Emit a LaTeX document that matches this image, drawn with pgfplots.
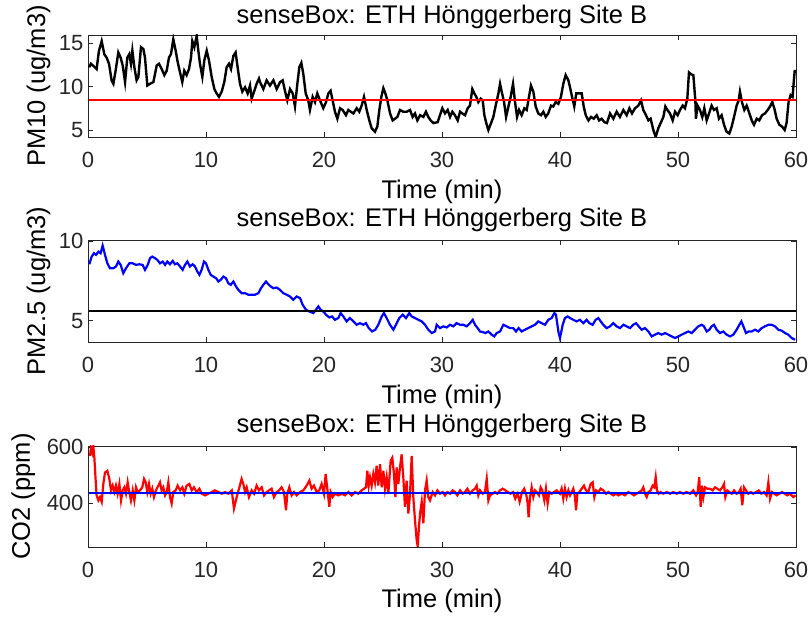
\documentclass[border=0pt]{standalone}
\usepackage{pgfplots}
\pgfplotsset{compat=1.18}
\usepackage{fontspec}
\setmainfont{Liberation Sans}
\definecolor{axgray}{RGB}{38,38,38}
\pgfplotsset{
  mlab/.style={
    scale only axis, width=708pt,
    xmin=0, xmax=60, xtick={0,10,20,30,40,50,60},
    axis line style={axgray, line width=0.6pt},
    tick style={axgray, line width=0.6pt},
    major tick length=5pt,
    tick align=inside,
    /pgf/number format/assume math mode=true,
    ticklabel style={font=\fontsize{22}{26}\selectfont, text=axgray},
    xticklabel style={anchor=base, yshift=-31pt},
    yticklabel style={anchor=east, xshift=-1pt},
    label style={font=\fontsize{25.5}{30}\selectfont},
    title style={font=\fontsize{25.5}{30}\selectfont},
    xlabel={Time (min)},
    clip=true,
  }
}
\begin{document}
\begin{tikzpicture}
\path[use as bounding box] (0,0) rectangle (812pt,618pt);
% ---------------- PM10
\begin{axis}[mlab, at={(88pt,481pt)}, anchor=south west, height=102pt,
  ymin=4.2, ymax=15.9, ytick={5,10,15},
  title={senseBox: ETH Hönggerberg Site B},
  title style={at={(axis description cs:0.5,1.05)}, anchor=base},
  xlabel style={at={(axis description cs:0.5,-0.6)}, anchor=base},
  ylabel={PM10 (ug/m3)},
  ylabel style={at={(axis description cs:-0.0699,0.5)}, anchor=center},
]
\addplot[black, line width=2.4pt] coordinates {
(0.1,12.2)(0.25,12.6)(0.5,12.3)(0.73,12.0)(0.93,14.1)(1.16,15.2)(1.38,13.7)(1.58,13.3)(1.78,12.6)(2.0,10.7)(2.15,10.3)(2.34,11.8)(2.57,13.9)(2.77,13.3)(2.94,12.4)(3.14,10.5)(3.33,13.3)(3.5,13.7)(3.64,12.6)(3.76,14.1)(3.93,12.2)(4.12,10.7)(4.27,11.1)(4.49,14.5)(4.69,14.3)(4.83,13.3)(5.03,10.1)(5.25,10.3)(5.54,10.5)(5.82,12.4)(6.02,12.6)(6.24,12.0)(6.47,11.3)(6.67,11.8)(6.86,13.3)(7.03,13.7)(7.23,15.4)(7.43,14.1)(7.6,12.8)(7.8,11.6)(7.99,10.5)(8.16,11.8)(8.36,11.3)(8.56,12.0)(8.73,13.3)(8.84,15.2)(9.01,14.5)(9.21,15.8)(9.35,14.1)(9.49,12.6)(9.69,11.1)(9.86,13.0)(10.06,14.1)(10.25,13.0)(10.48,11.1)(10.71,9.7)(10.9,9.2)(11.1,8.8)(11.33,9.4)(11.55,10.5)(11.75,12.2)(11.95,12.6)(12.12,12.0)(12.32,13.5)(12.51,13.9)(12.68,12.2)(12.88,10.3)(13.08,9.4)(13.31,9.9)(13.53,9.2)(13.73,10.1)(13.87,8.6)(14.1,9.5)(14.29,10.3)(14.49,10.9)
(14.58,10.5)(14.86,9.7)(15.14,10.7)(15.42,10.1)(15.71,10.7)(15.99,9.7)(16.28,10.5)(16.5,10.7)(16.69,9.5)(16.89,8.4)(17.12,9.7)(17.35,9.2)(17.54,7.7)(17.74,10.3)(17.91,12.2)(18.08,12.7)(18.25,11.4)(18.45,9.2)(18.67,8.4)(18.81,7.3)(19.04,8.8)(19.24,8.2)(19.43,9.2)(19.66,8.4)(19.94,7.5)(20.17,8.2)(20.37,9.2)(20.56,9.5)(20.73,8.4)(20.93,7.1)(21.13,6.3)(21.36,7.5)(21.58,7.3)(21.86,6.7)(22.06,7.3)(22.26,7.1)(22.49,6.9)(22.77,7.5)(22.99,7.1)(23.19,7.8)(23.39,8.8)(23.62,7.3)(23.84,6.1)(24.04,5.2)(24.32,4.8)(24.52,5.4)(24.69,7.3)(24.86,8.8)(25.03,9.8)(25.2,9.2)(25.37,8.4)(25.6,6.9)(25.82,6.1)(26.02,6.3)(26.22,6.5)(26.44,7.3)(26.72,7.1)(27.01,7.1)(27.29,7.3)(27.51,6.5)(27.71,6.9)(27.91,6.1)(28.14,6.7)(28.42,6.5)(28.64,7.1)(28.84,6.5)(29.04,6.1)(29.27,5.8)
(29.63,5.9)(29.83,6.7)(30.03,7.5)(30.25,6.9)(30.48,7.3)(30.68,6.5)(30.88,7.1)(31.1,6.7)(31.33,6.1)(31.53,7.1)(31.72,6.9)(31.95,6.7)(32.18,7.5)(32.37,7.8)(32.57,9.7)(32.74,9.2)(32.91,8.8)(33.08,8.2)(33.28,8.6)(33.45,8.4)(33.59,6.7)(33.79,5.6)(33.93,5.0)(34.16,5.8)(34.35,6.5)(34.55,7.8)(34.78,9.2)(34.92,10.3)(35.06,9.4)(35.26,8.2)(35.43,6.5)(35.63,7.7)(35.82,8.8)(36.02,10.3)(36.19,8.2)(36.36,6.5)(36.53,7.3)(36.75,6.7)(36.98,7.5)(37.18,7.3)(37.37,8.8)(37.54,10.1)(37.74,9.4)(37.94,7.7)(38.16,6.9)(38.39,6.7)(38.59,7.1)(38.79,6.5)(39.0,6.9)(39.24,7.8)(39.43,7.7)(39.63,8.2)(39.86,8.0)(40.08,8.8)(40.28,10.3)(40.48,11.3)(40.71,10.7)(40.85,9.9)(40.99,9.0)(41.21,7.7)(41.38,9.2)(41.61,9.2)(41.84,9.2)(42.01,7.7)(42.18,6.7)(42.41,6.1)(42.63,6.5)(42.86,6.3)(43.11,6.7)(43.31,6.1)(43.53,6.3)(43.76,5.9)(43.98,5.8)
(44.24,6.9)(44.52,6.3)(44.8,7.1)(45.08,6.5)(45.37,7.3)(45.65,6.7)(45.88,7.5)(46.1,6.9)(46.36,7.5)(46.64,7.8)(46.86,8.4)(47.06,7.3)(47.29,6.7)(47.49,6.1)(47.68,6.3)(47.91,5.0)(48.11,4.2)(48.33,5.2)(48.53,5.8)(48.76,6.5)(48.93,7.7)(49.1,7.3)(49.32,6.9)(49.55,6.1)(49.75,7.1)(49.97,6.7)(50.17,7.3)(50.4,7.8)(50.59,7.5)(50.79,8.6)(50.93,11.6)(51.1,11.4)(51.3,11.3)(51.47,8.4)(51.52,6.3)(51.66,7.8)(51.86,7.3)(52.06,6.5)(52.23,7.5)(52.43,6.1)(52.63,6.9)(52.85,7.8)(53.05,7.3)(53.28,7.5)(53.47,6.3)(53.7,6.7)(53.9,5.6)(54.12,4.8)(54.35,4.6)(54.55,5.4)(54.75,6.5)(54.97,7.8)(55.14,8.4)(55.25,9.4)(55.42,8.2)(55.62,7.3)(55.82,7.8)(56.05,6.9)(56.25,6.1)(56.44,5.6)(56.67,6.3)(56.89,6.1)(57.12,6.7)(57.37,6.9)(57.6,7.3)(57.8,7.7)(57.99,8.2)(58.16,7.5)(58.36,6.3)(58.59,5.6)(58.81,5.4)(59.04,5.0)(59.2,5.8)(59.37,8.2)(59.54,9.0)(59.71,8.8)(59.82,10.7)(59.9,11.9)
};
\addplot[red, line width=2pt] coordinates {(0.1,8.45)(60,8.45)};
\end{axis}
% ---------------- PM2.5
\begin{axis}[mlab, at={(88pt,276pt)}, anchor=south west, height=102pt,
  ymin=3.67, ymax=10.06, ytick={5,10},
  title={senseBox: ETH Hönggerberg Site B},
  title style={at={(axis description cs:0.5,1.07)}, anchor=base},
  xlabel style={at={(axis description cs:0.5,-0.6)}, anchor=base},
  ylabel={PM2.5 (ug/m3)},
  ylabel style={at={(axis description cs:-0.0699,0.5)}, anchor=center},
]
\addplot[blue, line width=2.2pt] coordinates {
(0.11,8.54)(0.31,9.02)(0.51,9.23)(0.68,9.13)(0.88,9.33)(1.07,9.23)(1.24,9.71)(1.44,9.13)(1.64,8.6)(1.86,8.29)(2.15,8.29)(2.37,8.4)(2.57,8.71)(2.77,8.5)(2.99,7.98)(3.22,8.29)(3.5,8.6)(3.79,8.6)(4.07,8.5)(4.35,8.54)(4.63,8.5)(4.83,8.19)(5.06,8.5)(5.25,8.92)(5.45,9.02)(5.68,8.92)(5.88,8.81)(6.1,8.6)(6.33,8.71)(6.53,8.5)(6.72,8.71)(6.95,8.54)(7.18,8.75)(7.37,8.54)(7.57,8.6)(7.8,8.4)(8.02,8.19)(8.22,8.5)(8.42,8.71)(8.64,8.4)(8.87,8.54)(9.07,8.4)(9.27,8.08)(9.44,7.88)(9.63,8.19)(9.83,8.71)(10.0,8.6)(10.2,8.19)(10.4,7.88)(10.62,7.77)(10.85,7.67)(11.05,7.46)(11.24,7.56)(11.47,7.77)(11.69,7.67)(11.89,7.35)(12.09,7.25)(12.32,7.46)(12.54,7.15)(12.74,6.94)(13.02,6.73)(13.31,6.73)(13.59,6.63)(13.87,6.63)(14.15,6.63)(14.44,6.73)(14.66,7.04)(14.86,7.25)(15.08,7.46)(15.28,7.29)(15.48,7.15)(15.71,7.04)(15.99,7.08)(16.27,6.94)(16.55,6.73)(16.84,6.63)(17.12,6.52)(17.4,6.31)(17.68,6.52)(17.97,6.42)(18.19,6.0)(18.47,5.69)(18.76,5.58)(19.1,5.48)(19.32,5.69)(19.52,5.9)(19.72,5.69)(19.94,5.58)(20.17,5.38)(20.45,5.21)(20.68,5.27)(20.93,5.06)(21.21,5.17)(21.41,5.48)(21.64,5.27)(21.92,4.96)(22.2,5.17)(22.49,4.96)(22.77,4.75)(23.05,4.85)(23.33,4.75)(23.56,4.85)(23.79,4.54)(24.07,4.33)(24.35,4.44)(24.6,4.75)(24.89,5.27)(25.08,5.48)(25.31,5.17)(25.59,4.75)(25.88,4.44)(26.1,4.75)(26.38,5.17)(26.67,5.38)(26.95,5.17)(27.23,5.48)(27.43,5.27)(27.71,5.17)(28.0,5.06)(28.28,4.96)(28.56,4.75)(28.84,4.44)(29.12,4.23)(29.41,4.33)
(29.55,4.75)(29.83,4.54)(30.11,4.65)(30.4,4.58)(30.68,4.75)(30.96,4.65)(31.24,4.85)(31.53,4.75)(31.81,4.75)(32.09,4.65)(32.37,4.85)(32.6,5.06)(32.8,4.75)(33.02,4.54)(33.22,4.33)(33.45,4.29)(33.67,4.23)(33.93,4.33)(34.21,4.13)(34.43,4.02)(34.63,4.23)(34.92,4.33)(35.2,4.75)(35.48,4.65)(35.76,4.54)(36.04,4.54)(36.27,4.33)(36.49,4.54)(36.75,4.33)(37.03,4.44)(37.31,4.54)(37.6,4.65)(37.88,4.75)(38.16,4.96)(38.44,4.85)(38.73,4.75)(39.01,5.06)(39.29,5.17)(39.52,5.48)(39.66,5.38)(39.86,4.33)(40.0,3.92)(40.23,4.75)(40.42,5.17)(40.65,5.27)(40.85,5.17)(41.13,5.06)(41.41,4.96)(41.69,5.06)(41.98,4.85)(42.26,5.06)(42.49,4.85)(42.77,4.75)(43.02,5.06)(43.25,5.17)(43.45,4.96)(43.67,4.75)(43.95,4.54)(44.24,4.65)(44.52,4.85)(44.8,4.65)(45.08,4.54)(45.37,4.75)(45.65,4.65)(45.93,4.54)(46.21,4.75)(46.44,4.85)(46.67,4.65)(46.92,4.44)(47.2,4.54)(47.49,4.33)(47.77,4.02)(48.05,4.13)(48.33,4.23)(48.62,4.13)(48.9,4.23)(49.18,4.13)(49.46,4.02)(49.75,3.92)(50.03,4.02)(50.31,4.13)(50.59,4.23)(50.88,4.33)(51.16,4.23)(51.44,4.44)(51.72,4.65)(52.01,4.75)(52.2,4.65)(52.43,4.33)(52.66,4.44)(52.85,4.65)(53.05,4.75)(53.28,4.44)(53.56,4.23)(53.84,4.33)(54.12,4.13)(54.41,4.02)(54.69,4.13)(54.97,4.44)(55.2,4.75)(55.37,4.96)(55.54,4.65)(55.76,4.23)(55.99,4.33)(56.24,4.33)(56.53,4.44)(56.81,4.33)(57.09,4.54)(57.37,4.65)(57.66,4.75)(57.94,4.75)(58.22,4.65)(58.5,4.44)(58.79,4.38)(59.07,4.23)(59.35,4.13)(59.63,3.92)(59.92,3.81)
};
\addplot[black, line width=2pt] coordinates {(0.1,5.6)(60,5.6)};
\end{axis}
% ---------------- CO2
\begin{axis}[mlab, at={(88pt,71pt)}, anchor=south west, height=101pt,
  ymin=242, ymax=604, ytick={400,600},
  title={senseBox: ETH Hönggerberg Site B},
  title style={at={(axis description cs:0.5,1.07)}, anchor=base},
  xlabel style={at={(axis description cs:0.5,-0.6)}, anchor=base},
  ylabel={CO2 (ppm)},
  ylabel style={at={(axis description cs:-0.0915,0.5)}, anchor=center},
]
\addplot[red, line width=2.2pt] coordinates {
(0.17,568)(0.25,598)(0.37,580)(0.45,603)(0.54,562)(0.65,480)(0.73,427)(0.88,409)(1.02,421)(1.16,404)(1.3,468)(1.44,509)(1.64,515)(1.81,486)(1.95,445)(2.09,462)(2.23,439)(2.37,462)(2.51,433)(2.66,468)(2.8,409)(2.94,445)(3.08,456)(3.22,433)(3.36,474)(3.5,439)(3.64,409)(3.79,445)(3.93,409)(4.07,456)(4.21,439)(4.41,445)(4.6,456)(4.75,486)(4.89,474)(5.03,439)(5.17,468)(5.31,433)(5.45,451)(5.59,421)(5.76,445)(5.96,462)(6.1,474)(6.24,445)(6.38,456)(6.53,427)(6.67,439)(6.81,474)(6.95,421)(7.09,398)(7.23,439)(7.43,445)(7.6,462)(7.8,445)(8.0,456)(8.16,433)(8.36,462)(8.59,468)(8.79,445)(8.98,456)(9.21,439)(9.44,451)(9.63,433)(9.92,427)(10.2,433)(10.48,439)(10.76,445)(11.05,439)(11.33,433)(11.61,439)(11.89,433)(12.18,445)(12.37,380)(12.6,421)(12.8,451)(13.02,486)(13.16,468)(13.31,439)(13.45,456)(13.64,421)(13.87,445)(14.07,433)(14.29,462)(14.49,445)(14.72,456)(14.92,427)(15.14,439)(15.34,445)(15.56,451)(15.76,421)(15.99,439)(16.19,445)(16.41,456)(16.61,439)(16.78,374)(16.89,433)(17.06,456)(17.26,427)(17.46,439)(17.68,427)(17.97,439)(18.25,445)(18.53,462)(18.76,480)(18.95,451)(19.15,462)(19.38,439)(19.6,445)(19.8,468)(20.0,433)(20.14,504)(20.28,451)(20.45,386)(20.56,439)(20.73,421)(20.93,433)(21.21,427)(21.5,433)(21.78,427)(22.06,439)(22.34,427)(22.63,439)(22.91,433)(23.19,445)(23.39,451)(23.56,456)(23.67,515)(23.79,462)(23.9,492)(24.04,462)(24.18,504)(24.32,474)(24.46,533)(24.6,462)(24.75,539)(24.89,456)(25.03,515)(25.17,451)(25.31,492)(25.45,433)(25.65,551)(25.79,562)(25.93,504)(26.05,421)(26.16,527)(26.3,468)(26.44,527)(26.58,574)(26.72,492)(26.86,386)(27.0,480)(27.15,362)(27.29,433)(27.43,568)(27.57,421)(27.71,339)(27.85,268)(27.94,245)(28.05,315)(28.14,362)(28.28,404)(28.42,327)(28.56,445)(28.7,480)(28.84,421)(28.98,409)
(29.21,439)(29.41,427)(29.61,445)(29.83,433)(30.06,439)(30.25,427)(30.45,439)(30.68,433)(30.9,445)(31.1,439)(31.3,427)(31.53,445)(31.75,433)(31.95,439)(32.15,451)(32.37,433)(32.6,445)(32.8,451)(32.94,462)(33.08,427)(33.22,445)(33.45,433)(33.64,439)(33.79,486)(33.93,409)(34.07,427)(34.29,433)(34.49,439)(34.69,433)(34.92,445)(35.14,451)(35.37,445)(35.57,439)(35.79,433)(36.02,439)(36.21,415)(36.41,433)(36.58,404)(36.78,439)(36.97,451)(37.15,427)(37.26,398)(37.34,348)(37.46,421)(37.6,456)(37.74,421)(37.88,445)(38.02,439)(38.22,427)(38.36,456)(38.5,445)(38.67,409)(38.81,451)(38.95,398)(39.09,439)(39.29,433)(39.49,439)(39.72,445)(40.0,433)(40.14,451)(40.28,415)(40.42,451)(40.56,421)(40.71,445)(40.85,427)(40.99,439)(41.13,451)(41.27,421)(41.36,374)(41.47,433)(41.64,439)(41.84,451)(42.03,462)(42.2,445)(42.4,439)(42.6,468)(42.77,474)(42.91,421)(43.05,445)(43.25,439)(43.45,451)(43.67,445)(43.9,433)(44.1,439)(44.29,433)(44.52,427)(44.75,433)(44.94,427)(45.23,433)(45.51,427)(45.79,439)(46.07,433)(46.27,427)(46.5,433)(46.72,439)(46.92,445)(47.06,456)(47.2,433)(47.35,421)(47.49,439)(47.68,445)(47.85,462)(47.99,456)(48.11,492)(48.22,445)(48.36,433)(48.53,439)(48.76,433)(49.04,439)(49.32,433)(49.6,439)(49.89,433)(50.17,439)(50.45,433)(50.73,439)(51.02,433)(51.3,445)(51.53,427)(51.67,439)(51.8,492)(51.92,386)(52.03,462)(52.15,421)(52.29,456)(52.49,451)(52.71,451)(52.94,445)(53.14,456)(53.33,451)(53.56,445)(53.76,456)(53.9,468)(54.01,421)(54.18,445)(54.35,439)(54.55,433)(54.75,445)(54.97,433)(55.17,439)(55.31,451)(55.45,392)(55.59,456)(55.76,445)(55.96,433)(56.16,439)(56.38,433)(56.61,439)(56.84,445)(57.06,433)(57.29,439)(57.51,427)(57.66,474)(57.8,415)(57.97,439)(58.16,433)(58.36,427)(58.59,433)(58.81,439)(59.04,433)(59.27,427)(59.49,433)(59.77,421)(59.97,427)
};
\addplot[blue, line width=2pt] coordinates {(0.1,437)(60,437)};
\end{axis}
\end{tikzpicture}
\end{document}
